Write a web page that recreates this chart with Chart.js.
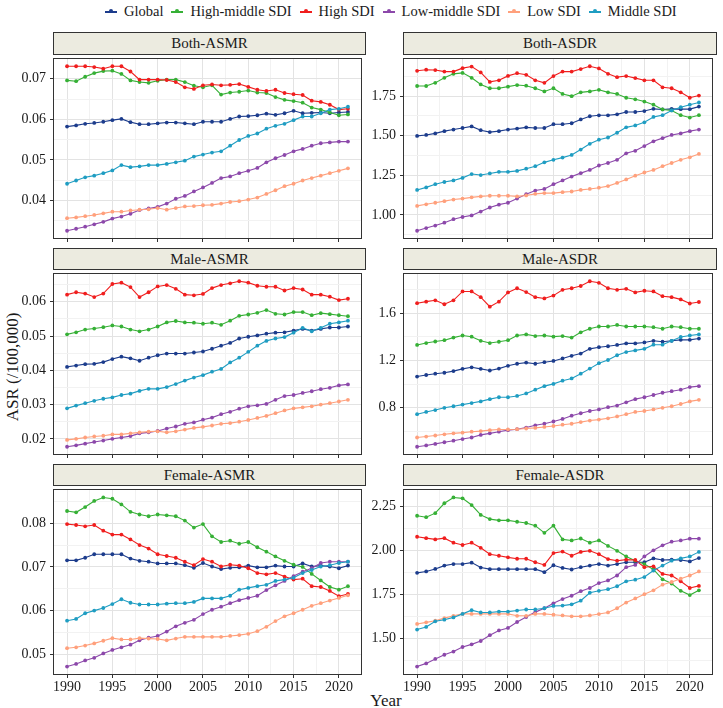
<!DOCTYPE html>
<html>
<head>
<meta charset="utf-8">
<script src="https://cdn.jsdelivr.net/npm/chart.js@4.4.1/dist/chart.umd.min.js"></script>
<style>
  body { margin: 0; background: #fff; width: 723px; height: 708px; position: relative; overflow: hidden;
         font-family: "Liberation Serif", "Times New Roman", serif; color: #1a1a1a; }
  canvas { position: absolute; }
  .strip { position: absolute; box-sizing: border-box; border: 1px solid #333; background: #ecebe0;
           text-align: center; font-size: 15px; line-height: 20px; }
  #legend { position: absolute; top: 3px; left: 105px; display: flex; gap: 8px; font-size: 14.5px; white-space: nowrap; }
  #legend .item { display: flex; align-items: center; gap: 7px; }
  #legend .key { position: relative; width: 12px; height: 2px; }
  #legend .key i { position: absolute; left: 4px; top: -1.5px; width: 4px; height: 4px; border-radius: 50%; }
  .axis-title { position: absolute; font-size: 17px; white-space: nowrap; }
</style>
</head>
<body>
<div id="legend"></div>
<div class="axis-title" style="left:13px;top:367px;transform:translate(-50%,-50%) rotate(-90deg);">ASR (/100,000)</div>
<div class="axis-title" style="left:386px;top:701px;transform:translate(-50%,-50%);">Year</div>

<script>
/* ==============================
   DATA
============================== */
const YEARS = [1990, 1991, 1992, 1993, 1994, 1995, 1996, 1997, 1998, 1999, 2000, 2001, 2002, 2003, 2004, 2005,
  2006, 2007, 2008, 2009, 2010, 2011, 2012, 2013, 2014, 2015, 2016, 2017, 2018, 2019, 2020, 2021];
const SERIES = ["Global", "High-middle SDI", "High SDI", "Low-middle SDI", "Low SDI", "Middle SDI"];
const COLORS = ["#1c3c8c", "#36b036", "#f01e1e", "#8c48aa", "#ffa07c", "#1f9dc2"];
const X_TICKS = ["1990", "1995", "2000", "2005", "2010", "2015", "2020"];

// Both-ASMR
const bothAsmrGlobal = [0.0582,0.0585,0.0589,0.0591,0.0594,0.0598,0.0601,0.0593,0.0588,0.0588,0.0590,0.0592,0.0592,0.0590,0.0588,0.0594,0.0594,0.0594,0.0601,0.0607,0.0608,0.0610,0.0614,0.0611,0.0615,0.0621,0.0615,0.0616,0.0617,0.0615,0.0617,0.0618];
const bothAsmrHighMid = [0.0696,0.0694,0.0705,0.0714,0.0719,0.0720,0.0712,0.0696,0.0692,0.0690,0.0695,0.0698,0.0698,0.0692,0.0683,0.0679,0.0684,0.0661,0.0666,0.0668,0.0671,0.0666,0.0665,0.0655,0.0648,0.0645,0.0641,0.0629,0.0624,0.0617,0.0610,0.0612];
const bothAsmrHigh = [0.0731,0.0731,0.0731,0.0729,0.0725,0.0731,0.0731,0.0718,0.0698,0.0698,0.0698,0.0697,0.0692,0.0679,0.0675,0.0684,0.0686,0.0684,0.0685,0.0687,0.0680,0.0673,0.0670,0.0673,0.0665,0.0662,0.0660,0.0646,0.0643,0.0636,0.0624,0.0626];
const bothAsmrLowMid = [0.0325,0.0330,0.0335,0.0341,0.0347,0.0355,0.0360,0.0367,0.0376,0.0380,0.0384,0.0392,0.0404,0.0411,0.0422,0.0432,0.0443,0.0455,0.0459,0.0467,0.0473,0.0480,0.0494,0.0504,0.0512,0.0521,0.0527,0.0535,0.0541,0.0543,0.0545,0.0545];
const bothAsmrLow = [0.0356,0.0358,0.0361,0.0364,0.0368,0.0372,0.0372,0.0375,0.0377,0.0378,0.0381,0.0377,0.0381,0.0385,0.0386,0.0388,0.0389,0.0392,0.0396,0.0398,0.0402,0.0407,0.0416,0.0425,0.0435,0.0441,0.0449,0.0455,0.0461,0.0467,0.0473,0.0479];
const bothAsmrMiddle = [0.0441,0.0449,0.0457,0.0461,0.0467,0.0474,0.0487,0.0482,0.0484,0.0487,0.0487,0.0490,0.0494,0.0498,0.0508,0.0513,0.0518,0.0521,0.0535,0.0549,0.0559,0.0565,0.0577,0.0584,0.0589,0.0598,0.0607,0.0607,0.0615,0.0624,0.0626,0.0631];
const BOTH_ASMR_TICKS = ["0.04", "0.05", "0.06", "0.07"];

// Both-ASDR
const bothAsdrGlobal = [1.499,1.505,1.515,1.529,1.539,1.549,1.559,1.535,1.523,1.529,1.539,1.545,1.553,1.549,1.549,1.573,1.573,1.579,1.603,1.623,1.629,1.629,1.635,1.650,1.650,1.656,1.670,1.666,1.670,1.668,1.668,1.684];
const bothAsdrHighMid = [1.814,1.814,1.834,1.866,1.891,1.897,1.866,1.824,1.800,1.800,1.810,1.820,1.816,1.800,1.780,1.800,1.764,1.750,1.774,1.780,1.790,1.774,1.764,1.740,1.730,1.716,1.696,1.666,1.660,1.630,1.615,1.630];
const bothAsdrHigh = [1.910,1.917,1.915,1.905,1.905,1.927,1.937,1.900,1.840,1.850,1.878,1.895,1.885,1.850,1.834,1.877,1.905,1.905,1.921,1.939,1.925,1.891,1.870,1.877,1.864,1.850,1.850,1.806,1.800,1.774,1.740,1.754];
const bothAsdrLowMid = [0.900,0.917,0.933,0.951,0.973,0.987,0.997,1.021,1.047,1.065,1.077,1.103,1.131,1.154,1.164,1.194,1.218,1.242,1.264,1.284,1.312,1.328,1.348,1.389,1.405,1.435,1.465,1.485,1.505,1.515,1.529,1.539];
const bothAsdrLow = [1.057,1.067,1.077,1.087,1.097,1.103,1.111,1.117,1.121,1.121,1.121,1.117,1.123,1.133,1.138,1.138,1.144,1.148,1.158,1.164,1.172,1.182,1.202,1.224,1.248,1.268,1.284,1.308,1.328,1.348,1.364,1.385];
const bothAsdrMiddle = [1.158,1.174,1.194,1.208,1.218,1.234,1.258,1.252,1.262,1.272,1.272,1.278,1.292,1.308,1.332,1.348,1.362,1.379,1.413,1.449,1.475,1.489,1.519,1.553,1.565,1.585,1.619,1.630,1.660,1.680,1.696,1.710];
const BOTH_ASDR_TICKS = ["1.00", "1.25", "1.50", "1.75"];

// Male-ASMR
const maleAsmrGlobal = [0.0410,0.0414,0.0418,0.0419,0.0424,0.0433,0.0440,0.0435,0.0428,0.0437,0.0444,0.0449,0.0449,0.0449,0.0452,0.0455,0.0463,0.0472,0.0480,0.0493,0.0498,0.0502,0.0507,0.0510,0.0511,0.0516,0.0521,0.0516,0.0521,0.0525,0.0525,0.0528];
const maleAsmrHighMid = [0.0505,0.0511,0.0519,0.0522,0.0526,0.0531,0.0528,0.0519,0.0514,0.0519,0.0528,0.0540,0.0544,0.0540,0.0539,0.0536,0.0539,0.0533,0.0545,0.0559,0.0563,0.0568,0.0576,0.0565,0.0563,0.0570,0.0570,0.0561,0.0567,0.0564,0.0561,0.0558];
const maleAsmrHigh = [0.0621,0.0628,0.0624,0.0614,0.0624,0.0652,0.0656,0.0643,0.0614,0.0628,0.0645,0.0649,0.0638,0.0621,0.0619,0.0623,0.0640,0.0649,0.0654,0.0660,0.0656,0.0647,0.0644,0.0644,0.0633,0.0640,0.0636,0.0621,0.0621,0.0615,0.0605,0.0609];
const maleAsmrLowMid = [0.0177,0.0181,0.0186,0.0191,0.0195,0.0200,0.0204,0.0208,0.0216,0.0219,0.0223,0.0230,0.0236,0.0244,0.0248,0.0256,0.0262,0.0272,0.0279,0.0288,0.0295,0.0298,0.0302,0.0314,0.0325,0.0328,0.0334,0.0339,0.0345,0.0349,0.0356,0.0359];
const maleAsmrLow = [0.0197,0.0200,0.0204,0.0207,0.0209,0.0213,0.0213,0.0216,0.0219,0.0221,0.0222,0.0219,0.0222,0.0227,0.0232,0.0235,0.0239,0.0244,0.0246,0.0250,0.0255,0.0261,0.0267,0.0275,0.0283,0.0289,0.0292,0.0295,0.0300,0.0304,0.0309,0.0314];
const maleAsmrMiddle = [0.0289,0.0297,0.0304,0.0311,0.0317,0.0321,0.0328,0.0332,0.0340,0.0346,0.0346,0.0351,0.0360,0.0370,0.0379,0.0386,0.0396,0.0404,0.0423,0.0437,0.0454,0.0472,0.0486,0.0493,0.0497,0.0510,0.0524,0.0514,0.0524,0.0536,0.0540,0.0545];
const MALE_ASMR_TICKS = ["0.02", "0.03", "0.04", "0.05", "0.06"];

// Male-ASDR
const maleAsdrGlobal = [1.064,1.077,1.088,1.096,1.110,1.129,1.142,1.129,1.115,1.131,1.155,1.172,1.182,1.172,1.185,1.196,1.217,1.239,1.258,1.298,1.312,1.320,1.331,1.344,1.344,1.352,1.366,1.358,1.366,1.374,1.374,1.385];
const maleAsdrHighMid = [1.331,1.347,1.360,1.371,1.393,1.411,1.401,1.366,1.347,1.358,1.371,1.411,1.420,1.406,1.411,1.401,1.406,1.393,1.438,1.468,1.487,1.487,1.500,1.487,1.487,1.487,1.481,1.468,1.487,1.481,1.468,1.468];
const maleAsdrHigh = [1.684,1.697,1.708,1.675,1.708,1.783,1.783,1.735,1.654,1.697,1.775,1.810,1.778,1.735,1.724,1.748,1.797,1.810,1.829,1.869,1.856,1.810,1.797,1.805,1.775,1.789,1.783,1.743,1.735,1.716,1.681,1.694];
const maleAsdrLowMid = [0.471,0.482,0.495,0.509,0.522,0.536,0.549,0.571,0.584,0.598,0.611,0.619,0.633,0.652,0.665,0.684,0.706,0.733,0.754,0.773,0.786,0.805,0.819,0.846,0.873,0.889,0.908,0.927,0.940,0.953,0.975,0.983];
const maleAsdrLow = [0.549,0.557,0.566,0.576,0.584,0.590,0.598,0.603,0.611,0.617,0.617,0.619,0.625,0.630,0.638,0.646,0.657,0.665,0.679,0.692,0.700,0.711,0.727,0.746,0.765,0.773,0.786,0.800,0.813,0.832,0.854,0.867];
const maleAsdrMiddle = [0.746,0.765,0.781,0.800,0.813,0.827,0.840,0.854,0.873,0.889,0.889,0.900,0.921,0.953,0.983,1.002,1.029,1.048,1.088,1.131,1.177,1.204,1.244,1.271,1.285,1.298,1.333,1.333,1.366,1.398,1.411,1.420];
const MALE_ASDR_TICKS = ["0.8", "1.2", "1.6"];

// Female-ASMR
const femaleAsmrGlobal = [0.0715,0.0715,0.0721,0.0729,0.0729,0.0729,0.0729,0.0719,0.0714,0.0712,0.0708,0.0708,0.0708,0.0704,0.0698,0.0709,0.0701,0.0695,0.0698,0.0699,0.0703,0.0699,0.0699,0.0703,0.0701,0.0701,0.0708,0.0701,0.0703,0.0701,0.0697,0.0703];
const femaleAsmrHighMid = [0.0828,0.0825,0.0837,0.0851,0.0859,0.0856,0.0843,0.0826,0.0820,0.0816,0.0820,0.0818,0.0816,0.0806,0.0790,0.0798,0.0770,0.0757,0.0760,0.0753,0.0757,0.0745,0.0735,0.0724,0.0714,0.0705,0.0700,0.0684,0.0669,0.0654,0.0648,0.0656];
const femaleAsmrHigh = [0.0798,0.0796,0.0793,0.0796,0.0783,0.0774,0.0774,0.0763,0.0750,0.0742,0.0729,0.0725,0.0721,0.0712,0.0704,0.0718,0.0712,0.0701,0.0705,0.0703,0.0697,0.0686,0.0683,0.0686,0.0678,0.0671,0.0673,0.0656,0.0654,0.0645,0.0633,0.0638];
const femaleAsmrLowMid = [0.0472,0.0478,0.0486,0.0492,0.0502,0.0510,0.0516,0.0522,0.0532,0.0538,0.0542,0.0552,0.0564,0.0572,0.0579,0.0592,0.0602,0.0609,0.0617,0.0624,0.0629,0.0634,0.0647,0.0658,0.0668,0.0679,0.0689,0.0697,0.0709,0.0712,0.0712,0.0712];
const femaleAsmrLow = [0.0514,0.0516,0.0520,0.0525,0.0531,0.0537,0.0534,0.0534,0.0537,0.0536,0.0535,0.0532,0.0536,0.0540,0.0540,0.0540,0.0540,0.0540,0.0542,0.0544,0.0547,0.0553,0.0563,0.0576,0.0587,0.0594,0.0602,0.0611,0.0617,0.0623,0.0629,0.0635];
const femaleAsmrMiddle = [0.0577,0.0581,0.0594,0.0600,0.0606,0.0615,0.0626,0.0618,0.0614,0.0614,0.0614,0.0616,0.0617,0.0617,0.0620,0.0628,0.0628,0.0628,0.0634,0.0648,0.0652,0.0656,0.0659,0.0668,0.0671,0.0675,0.0686,0.0693,0.0701,0.0704,0.0709,0.0712];
const FEMALE_ASMR_TICKS = ["0.05", "0.06", "0.07", "0.08"];

// Female-ASDR
const femaleAsdrGlobal = [1.874,1.882,1.896,1.915,1.924,1.924,1.932,1.904,1.895,1.895,1.895,1.895,1.895,1.895,1.878,1.917,1.902,1.893,1.906,1.915,1.924,1.915,1.924,1.934,1.934,1.934,1.956,1.947,1.949,1.947,1.939,1.958];
const femaleAsdrHighMid = [2.198,2.190,2.213,2.269,2.302,2.297,2.259,2.203,2.179,2.172,2.172,2.164,2.157,2.142,2.101,2.142,2.064,2.058,2.069,2.045,2.058,2.027,1.999,1.967,1.943,1.924,1.893,1.837,1.813,1.772,1.748,1.775];
const femaleAsdrHigh = [2.079,2.071,2.064,2.071,2.045,2.032,2.045,2.016,1.980,1.971,1.962,1.954,1.954,1.934,1.919,1.986,1.995,1.971,1.993,1.999,1.980,1.952,1.943,1.949,1.947,1.906,1.911,1.868,1.859,1.826,1.788,1.800];
const femaleAsdrLowMid = [1.342,1.360,1.385,1.409,1.427,1.453,1.468,1.487,1.520,1.547,1.561,1.595,1.623,1.651,1.673,1.701,1.725,1.744,1.770,1.788,1.816,1.831,1.859,1.906,1.919,1.967,2.002,2.030,2.051,2.058,2.068,2.068];
const femaleAsdrLow = [1.584,1.593,1.602,1.617,1.630,1.641,1.641,1.641,1.641,1.641,1.641,1.630,1.630,1.641,1.641,1.636,1.632,1.627,1.627,1.632,1.640,1.649,1.673,1.705,1.729,1.753,1.775,1.807,1.822,1.841,1.859,1.882];
const femaleAsdrMiddle = [1.552,1.567,1.599,1.608,1.621,1.641,1.662,1.649,1.649,1.654,1.654,1.660,1.666,1.666,1.673,1.686,1.688,1.695,1.716,1.761,1.772,1.781,1.798,1.826,1.835,1.850,1.887,1.915,1.943,1.956,1.967,1.993];
const FEMALE_ASDR_TICKS = ["1.50", "1.75", "2.00", "2.25"];

const PANELS = [
  { title: "Both-ASMR", col: 0, row: 0, ticks: BOTH_ASMR_TICKS,
    data: [bothAsmrGlobal, bothAsmrHighMid, bothAsmrHigh, bothAsmrLowMid, bothAsmrLow, bothAsmrMiddle] },
  { title: "Both-ASDR", col: 1, row: 0, ticks: BOTH_ASDR_TICKS,
    data: [bothAsdrGlobal, bothAsdrHighMid, bothAsdrHigh, bothAsdrLowMid, bothAsdrLow, bothAsdrMiddle] },
  { title: "Male-ASMR", col: 0, row: 1, ticks: MALE_ASMR_TICKS,
    data: [maleAsmrGlobal, maleAsmrHighMid, maleAsmrHigh, maleAsmrLowMid, maleAsmrLow, maleAsmrMiddle] },
  { title: "Male-ASDR", col: 1, row: 1, ticks: MALE_ASDR_TICKS,
    data: [maleAsdrGlobal, maleAsdrHighMid, maleAsdrHigh, maleAsdrLowMid, maleAsdrLow, maleAsdrMiddle] },
  { title: "Female-ASMR", col: 0, row: 2, ticks: FEMALE_ASMR_TICKS,
    data: [femaleAsmrGlobal, femaleAsmrHighMid, femaleAsmrHigh, femaleAsmrLowMid, femaleAsmrLow, femaleAsmrMiddle] },
  { title: "Female-ASDR", col: 1, row: 2, ticks: FEMALE_ASDR_TICKS,
    data: [femaleAsdrGlobal, femaleAsdrHighMid, femaleAsdrHigh, femaleAsdrLowMid, femaleAsdrLow, femaleAsdrMiddle] },
];

/* ==============================
   LAYOUT
============================== */
const COLS = [{ x0: 53, x1: 366 }, { x0: 403, x1: 717 }];
const ROWS = [
  { strip: 32, top: 54, bottom: 243 },
  { strip: 248, top: 269, bottom: 459 },
  { strip: 464, top: 485, bottom: 675 },
];
const AXIS_W = 52;   // room for y tick labels
const X_AXIS_H = 24; // room for x tick labels (bottom row)
const FONT = { family: "'Liberation Serif', 'Times New Roman', serif", size: 14 };
const TEXT = "#1a1a1a";

// legend
const legendEl = document.getElementById("legend");
SERIES.forEach((name, i) => {
  const item = document.createElement("div");
  item.className = "item";
  item.innerHTML = `<span class="key" style="background:${COLORS[i]}"><i style="background:${COLORS[i]}"></i></span><span>${name}</span>`;
  legendEl.appendChild(item);
});

// ggplot-ish: major breaks + minor breaks halfway between them, within the range
function withMinor(major, min, max) {
  const step = major[1] - major[0];
  const out = [];
  for (let i = -1; i < major.length; i++) {
    const base = i < 0 ? major[0] - step : major[i];
    if (i >= 0) out.push(base);
    out.push(base + step / 2);
  }
  return out.filter((v) => v >= min - 1e-9 && v <= max + 1e-9).sort((a, b) => a - b);
}

function isMajor(v, major) {
  return major.some((m) => Math.abs(m - v) < 1e-7);
}

const panelBorder = {
  id: "panelBorder",
  afterDraw(chart) {
    const { ctx, chartArea: a } = chart;
    ctx.save();
    ctx.strokeStyle = "#333";
    ctx.lineWidth = 1;
    ctx.strokeRect(a.left + 0.5, a.top + 0.5, a.right - a.left - 1, a.bottom - a.top - 1);
    ctx.restore();
  },
};

const xMajor = X_TICKS.map(Number);
const xPad = (YEARS[YEARS.length - 1] - YEARS[0]) * 0.05;
const xMin = YEARS[0] - xPad;
const xMax = YEARS[YEARS.length - 1] + xPad;
const xGrid = withMinor(xMajor, xMin, xMax);

PANELS.forEach((p) => {
  const c = COLS[p.col];
  const r = ROWS[p.row];
  const isBottom = p.row === ROWS.length - 1;
  const xh = isBottom ? X_AXIS_H : 0;

  // strip
  const strip = document.createElement("div");
  strip.className = "strip";
  strip.style.left = c.x0 + "px";
  strip.style.top = r.strip + "px";
  strip.style.width = c.x1 - c.x0 + "px";
  strip.style.height = r.top - r.strip + 1 + "px";
  strip.textContent = p.title;

  // canvas
  const cv = document.createElement("canvas");
  cv.width = c.x1 - c.x0 + AXIS_W;
  cv.height = r.bottom - r.top + xh;
  cv.style.left = c.x0 - AXIS_W + "px";
  cv.style.top = r.top + "px";
  document.body.appendChild(cv);
  document.body.appendChild(strip);

  // y range: data range expanded 5% each side
  const all = p.data.flat();
  const lo = Math.min(...all);
  const hi = Math.max(...all);
  const yMin = lo - (hi - lo) * 0.05;
  const yMax = hi + (hi - lo) * 0.05;
  const yMajor = p.ticks.map(Number);
  const yGrid = withMinor(yMajor, yMin, yMax);

  new Chart(cv, {
    type: "line",
    data: {
      datasets: SERIES.map((name, i) => ({
        label: name,
        data: YEARS.map((yr, k) => ({ x: yr, y: p.data[i][k] })),
        borderColor: COLORS[i],
        backgroundColor: COLORS[i],
        borderWidth: 1.1,
        pointRadius: 1.9,
        pointBorderWidth: 0,
        pointBackgroundColor: COLORS[i],
        tension: 0,
        order: SERIES.length - i, // later groups drawn on top, like ggplot
      })),
    },
    options: {
      responsive: false,
      animation: false,
      devicePixelRatio: 1,
      layout: { padding: 0 },
      plugins: { legend: { display: false }, tooltip: { enabled: false }, title: { display: false } },
      scales: {
        x: {
          type: "linear",
          min: xMin,
          max: xMax,
          afterBuildTicks: (s) => { s.ticks = xGrid.map((v) => ({ value: v })); },
          afterFit: (s) => { s.height = xh; s.paddingLeft = 0; s.paddingRight = 0; },
          border: { display: false },
          grid: {
            color: (ctx) => (isMajor(ctx.tick.value, xMajor) ? "#e3e3e3" : "#f2f2f2"),
            tickColor: (ctx) => (isMajor(ctx.tick.value, xMajor) ? "#333" : "rgba(0,0,0,0)"),
            tickLength: 3,
            lineWidth: 1,
          },
          ticks: {
            display: isBottom,
            autoSkip: false,
            maxRotation: 0,
            padding: 1,
            font: FONT,
            color: TEXT,
            callback: (v) => (isMajor(v, xMajor) ? String(Math.round(v)) : ""),
          },
        },
        y: {
          min: yMin,
          max: yMax,
          afterBuildTicks: (s) => { s.ticks = yGrid.map((v) => ({ value: v })); },
          afterFit: (s) => { s.width = AXIS_W; s.paddingTop = 0; s.paddingBottom = 0; },
          border: { display: false },
          grid: {
            color: (ctx) => (isMajor(ctx.tick.value, yMajor) ? "#e3e3e3" : "#f2f2f2"),
            tickColor: (ctx) => (isMajor(ctx.tick.value, yMajor) ? "#333" : "rgba(0,0,0,0)"),
            tickLength: 3,
            lineWidth: 1,
          },
          ticks: {
            autoSkip: false,
            padding: 4,
            font: FONT,
            color: TEXT,
            callback: (v) => {
              const idx = yMajor.findIndex((m) => Math.abs(m - v) < 1e-7);
              return idx >= 0 ? p.ticks[idx] : "";
            },
          },
        },
      },
    },
    plugins: [panelBorder],
  });
});
</script>
</body>
</html>
